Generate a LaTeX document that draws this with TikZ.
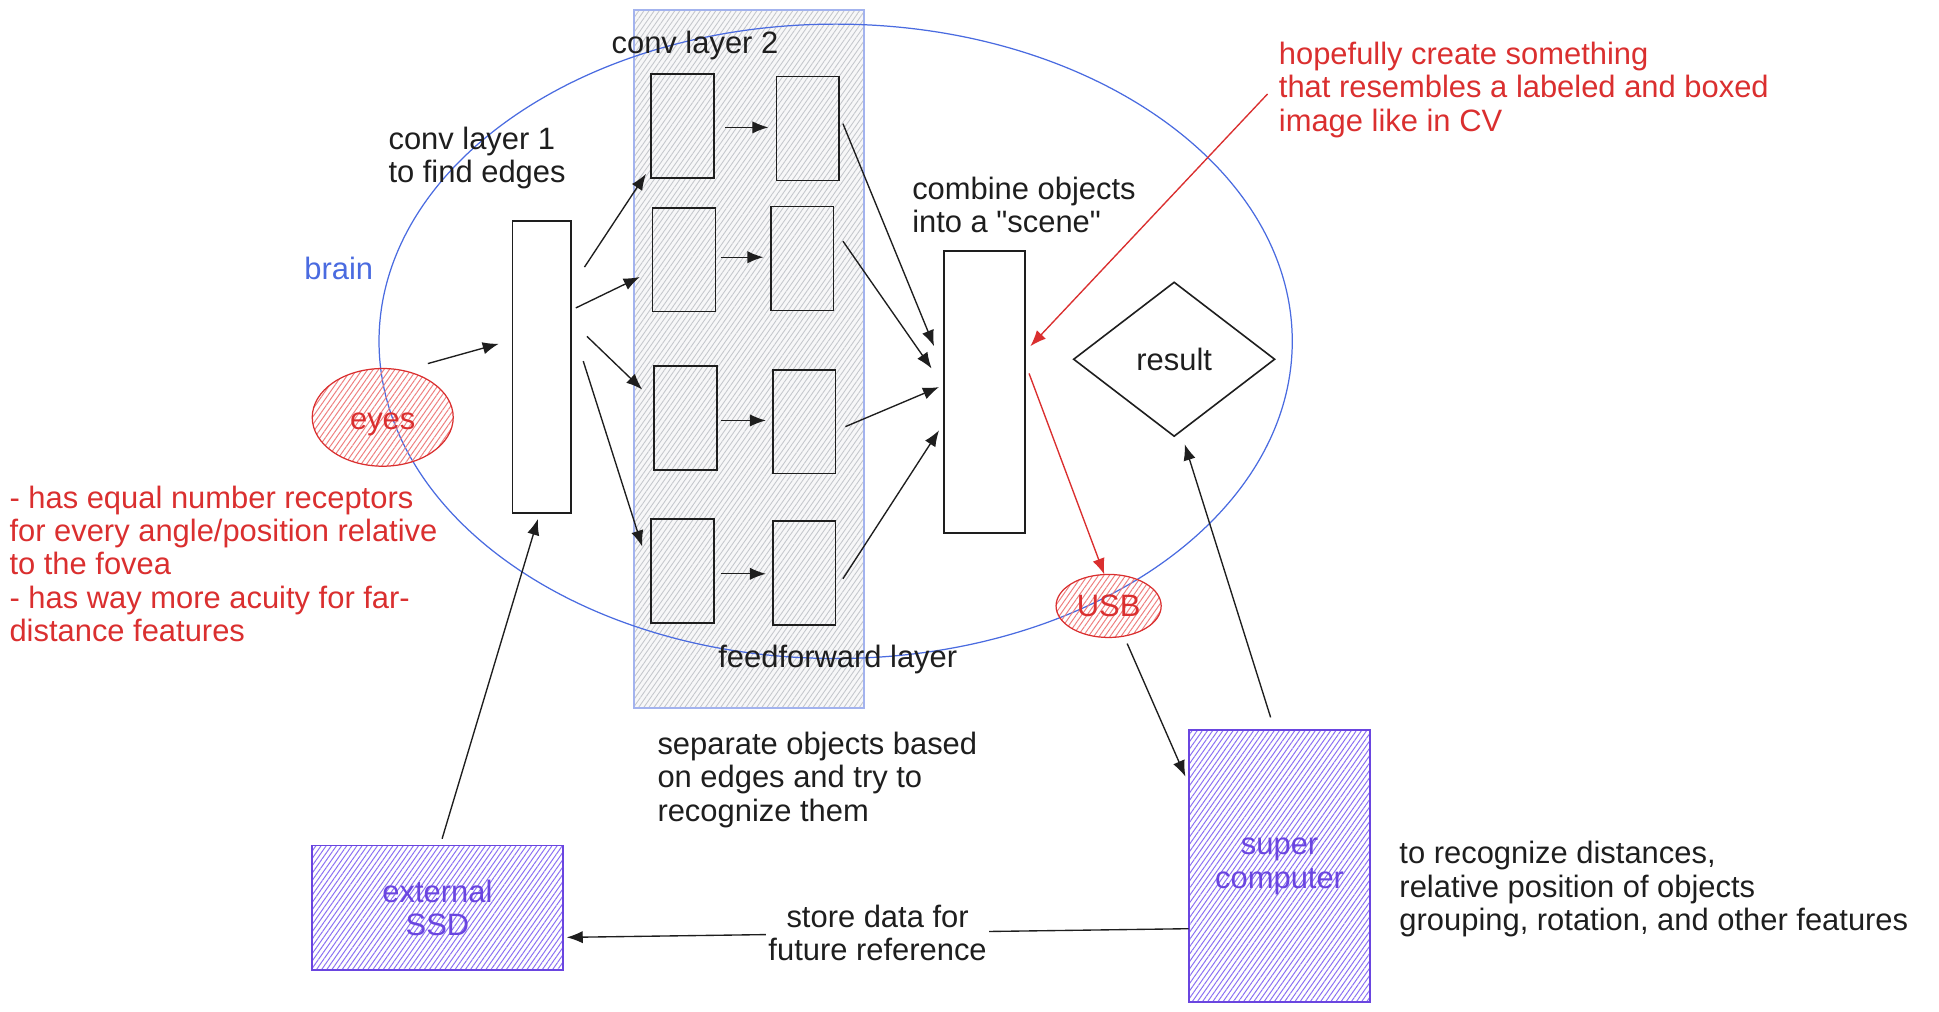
\documentclass[tikz,border=0pt]{standalone}
\usepackage{fontspec}
\setmainfont{Liberation Sans}
\usetikzlibrary{shapes.geometric,patterns.meta,arrows.meta}
\definecolor{ink}{HTML}{1E1E1E}
\definecolor{redc}{HTML}{DA2F2F}
\definecolor{redhatch}{HTML}{EE7F7F}
\definecolor{bluec}{HTML}{4A6BE0}
\definecolor{purp}{HTML}{6A45E0}
\definecolor{purphatch}{HTML}{8A70F2}
\definecolor{colborder}{HTML}{A3B3EE}
\definecolor{colhatch}{HTML}{C4C7CC}
\definecolor{colfill}{HTML}{F7F7F8}
\begin{document}
\begin{tikzpicture}[x=1pt,y=1pt,
  txt/.style={font=\fontsize{25}{27}\selectfont, text=ink, inner sep=0pt, align=left},
  box/.style={draw=ink, line width=1.3pt, inner sep=0pt},
  whitebox/.style={box, fill=white},
  arr/.style={draw=ink, line width=1.1pt, -{Latex[length=13pt,width=10pt]}},
  rarr/.style={draw=redc, line width=1.1pt, -{Latex[length=13pt,width=10pt]}},
  colbox/.style={draw=colborder, line width=1.2pt, inner sep=0pt,
    preaction={fill=colfill}, pattern={Lines[angle=55,distance=3.4pt,line width=0.7pt]}, pattern color=colhatch},
  redblob/.style={ellipse, draw=redc, line width=1pt, inner sep=0pt, text=redc,
    font=\fontsize{25}{27}\selectfont,
    pattern={Lines[angle=55,distance=3.6pt,line width=0.8pt]}, pattern color=redhatch},
  purpbox/.style={draw=purp, line width=1.5pt, inner sep=0pt, text=purp, align=center,
    font=\fontsize{25}{27}\selectfont,
    pattern={Lines[angle=55,distance=3.4pt,line width=0.8pt]}, pattern color=purphatch},
]
\useasboundingbox (0,0) rectangle (1568,-817.6);

% conv layer 2 column and brain
\node[colbox, minimum width=186, minimum height=564.5] (col) at (605.5,-290.3) {};
\node[draw=bluec, line width=1pt, ellipse, minimum width=738.5, minimum height=513, inner sep=0pt] (brain) at (675.75,-276) {};

% boxes
\node[whitebox, minimum width=47, minimum height=236.5] (conv1) at (438,-296.75) {};
\node[box, minimum width=51, minimum height=84] (a1) at (552,-102) {};
\node[box, minimum width=51, minimum height=84] (a2) at (553,-210) {};
\node[box, minimum width=51, minimum height=84] (a3) at (554.5,-338) {};
\node[box, minimum width=51, minimum height=84] (a4) at (552,-461.6) {};
\node[box, minimum width=50.5, minimum height=84] (b1) at (653.25,-104) {};
\node[box, minimum width=50.5, minimum height=84] (b2) at (648.75,-209) {};
\node[box, minimum width=50.5, minimum height=84] (b3) at (650.25,-341) {};
\node[box, minimum width=50.5, minimum height=84] (b4) at (650.25,-463.5) {};
\node[whitebox, minimum width=65.5, minimum height=228] (scene) at (796.25,-317) {};
\node[diamond, draw=ink, line width=1.3pt, inner sep=0pt, minimum width=163, minimum height=125,
  font=\fontsize{25}{27}\selectfont, text=ink] (result) at (949.5,-290.5) {result};
\node[redblob, minimum width=85, minimum height=51] (usb) at (896.5,-490) {USB};
\node[redblob, minimum width=114, minimum height=79] (eyes) at (309.5,-337.5) {\raisebox{-10pt}[0pt][0pt]{eyes}};
\node[purpbox, minimum width=146.5, minimum height=220] (super) at (1034.75,-700.5) {super\\computer};
\node[purpbox, minimum width=202.5, minimum height=101] (ssd) at (353.75,-734.2) {external\\SSD};

% texts
\node[txt] (tconv2) at (562,-37) {conv layer 2};
\node[txt, anchor=west] (tconv1) at (314,-128) {conv layer 1\\to find edges};
\node[txt, text=bluec] (tbrain) at (274,-217) {brain};
\node[txt, anchor=west] (tcomb) at (737.5,-165.5) {combine objects\\into a \textquotedbl scene\textquotedbl};
\node[txt, anchor=west, text=redc] (thope) at (1034,-72.5) {hopefully create something\\that resembles a labeled and boxed\\image like in CV};
\node[txt, anchor=west, text=redc] (teyes) at (7.5,-456) {- has equal number receptors\\for every angle/position relative\\to the fovea\\- has way more acuity for far-\\distance features};
\node[txt] (tff) at (677.5,-533) {feedforward layer};
\node[txt, anchor=west] (tsep) at (531.5,-630.5) {separate objects based\\on edges and try to\\recognize them};
\node[txt, anchor=west] (tdist) at (1131.5,-719) {to recognize distances,\\relative position of objects\\grouping, rotation, and other features};
\coordinate (hopetail) at (1025,-76);

% connectors
\draw[arr] ([shift={(36.5,43.5)}]eyes.center) -- ([shift={(-10.5,18.75)}]conv1.west);
\draw[arr] ([shift={(10.5,80.75)}]conv1.east) -- ([shift={(-3.5,4)}]a1.south west);
\draw[arr] ([shift={(3.5,47.75)}]conv1.east) -- ([shift={(-9.5,-14)}]a2.west);
\draw[arr] ([shift={(12.5,24.75)}]conv1.east) -- ([shift={(-9,23)}]a3.west);
\draw[arr] ([shift={(9.5,4.75)}]conv1.east) -- ([shift={(-6.5,19.6)}]a4.west);
\draw[arr] ([shift={(8.5,-1)}]a1.east) -- ([shift={(-6,1)}]b1.west);
\draw[arr] ([shift={(3.5,2)}]a2.east) -- ([shift={(-5.5,1)}]b2.west);
\draw[arr] ([shift={(2,-2)}]a3.east) -- ([shift={(-5,1)}]b3.west);
\draw[arr] ([shift={(4.5,-2.4)}]a4.east) -- ([shift={(-5,-0.5)}]b4.west);
\draw[arr] ([shift={(2.5,4)}]b1.east) -- ([shift={(-7.5,37)}]scene.west);
\draw[arr] ([shift={(7,14)}]b2.east) -- ([shift={(-9.5,19)}]scene.west);
\draw[arr] ([shift={(7.5,-4)}]b3.east) -- ([shift={(-3.5,4)}]scene.west);
\draw[arr] ([shift={(5.5,-4.5)}]b4.east) -- ([shift={(-3.5,-31)}]scene.west);
\draw[rarr] (hopetail) -- ([shift={(3.5,37)}]scene.east);
\draw[rarr] ([shift={(2.5,15)}]scene.east) -- ([shift={(-3.5,-0.5)}]usb.north);
\draw[arr] ([shift={(15,-4.5)}]usb.south) -- ([shift={(-2.5,72.5)}]super.west);
\draw[arr] ([shift={(-7.25,10)}]super.north) -- ([shift={(8.5,-5.5)}]result.south);
\draw[arr] ([shift={(0,-50.5)}]super.west) -- node[txt, align=center, fill=white, inner sep=2pt] (tstore) {store data for\\future reference} ([shift={(2.5,-23.8)}]ssd.east);
\draw[arr] ([shift={(3.75,4.7)}]ssd.north) -- ([shift={(-3,-4)}]conv1.south);
\end{tikzpicture}
\end{document}
